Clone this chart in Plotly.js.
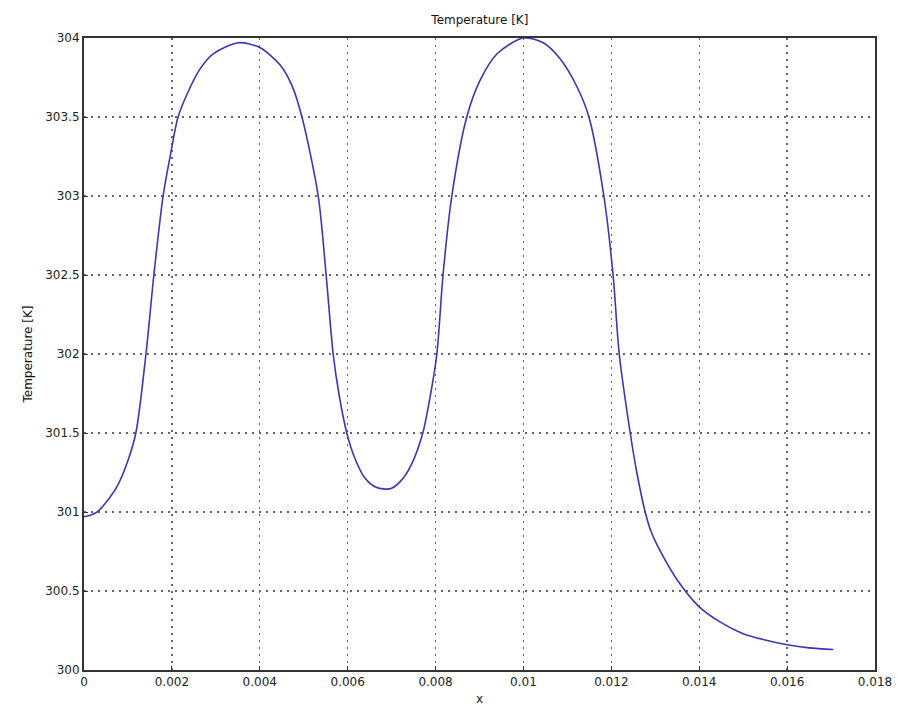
<!DOCTYPE html>
<html>
<head>
<meta charset="utf-8">
<script src="https://cdn.plot.ly/plotly-3.0.1.min.js"></script>
<style>html,body{margin:0;padding:0;background:#fff}#chart{width:897px;height:715px}</style>
</head>
<body>
<div id="chart"></div>
<script>
const xPos = [0, 0.00014, 0.0003, 0.0005, 0.00075, 0.00098, 0.00118, 0.00141, 0.00159, 0.0018, 0.00196, 0.00214, 0.00237, 0.00263, 0.00294, 0.00352, 0.004, 0.00446, 0.00473, 0.00496, 0.00533, 0.00551, 0.00567, 0.0058, 0.00598, 0.00615, 0.00638, 0.00662, 0.00685, 0.007, 0.00722, 0.00745, 0.00771, 0.00789, 0.00803, 0.00817, 0.00837, 0.00871, 0.00901, 0.0094, 0.00999, 0.01045, 0.01083, 0.01122, 0.01149, 0.01183, 0.01204, 0.01218, 0.01243, 0.01258, 0.01277, 0.0129, 0.0131, 0.0135, 0.014, 0.0145, 0.015, 0.0155, 0.016, 0.0165, 0.01705];
const temperature = [300.97, 300.98, 301.0, 301.06, 301.16, 301.31, 301.5, 302.0, 302.5, 303.0, 303.25, 303.5, 303.66, 303.8, 303.9, 303.97, 303.94, 303.83, 303.7, 303.5, 303.0, 302.5, 302.0, 301.75, 301.5, 301.35, 301.22, 301.16, 301.145, 301.15, 301.2, 301.3, 301.5, 301.75, 302.0, 302.5, 303.0, 303.5, 303.73, 303.9, 304.0, 303.97, 303.87, 303.69, 303.5, 303.0, 302.5, 302.0, 301.5, 301.25, 301.0, 300.88, 300.76, 300.57, 300.4, 300.3, 300.23, 300.19, 300.16, 300.14, 300.13];
const xTicks = [0, 0.002, 0.004, 0.006, 0.008, 0.01, 0.012, 0.014, 0.016, 0.018];
const xTickText = ["0", "0.002", "0.004", "0.006", "0.008", "0.01", "0.012", "0.014", "0.016", "0.018"];
const yTicks = [300, 300.5, 301, 301.5, 302, 302.5, 303, 303.5, 304];
const yTickText = ["300", "300.5", "301", "301.5", "302", "302.5", "303", "303.5", "304"];

const fontFam = 'DejaVu Sans, Verdana, sans-serif';
const axisCommon = {
  showline: true, linecolor: '#333', linewidth: 2, mirror: true,
  showgrid: true, gridcolor: '#666', griddash: '2px,5px', gridwidth: 1.3,
  ticks: 'inside', ticklen: 4, tickcolor: '#333',
  zeroline: false,
  tickfont: {family: fontFam, size: 12, color: '#222'}
};

Plotly.newPlot('chart', [{
  x: xPos, y: temperature, type: 'scatter', mode: 'lines',
  line: {color: '#3838b4', width: 1.6, shape: 'spline', smoothing: 0.8}
}], {
  width: 897, height: 715,
  margin: {l: 84, r: 22, t: 38, b: 45},
  paper_bgcolor: '#fff', plot_bgcolor: '#fff',
  showlegend: false,
  title: {text: 'Temperature [K]', x: 0.535, xanchor: 'center', y: 0.972, yanchor: 'middle',
    font: {family: fontFam, size: 12, color: '#111'}},
  xaxis: Object.assign({}, axisCommon, {
    range: [0, 0.018], tickvals: xTicks, ticktext: xTickText,
    title: {text: 'x', standoff: 6, font: {family: fontFam, size: 12, color: '#222'}}
  }),
  yaxis: Object.assign({}, axisCommon, {
    range: [300, 304], tickvals: yTicks, ticktext: yTickText,
    title: {text: 'Temperature [K]', standoff: 10, font: {family: fontFam, size: 12, color: '#111'}}
  })
}, {displayModeBar: false, staticPlot: true});
</script>
</body>
</html>
